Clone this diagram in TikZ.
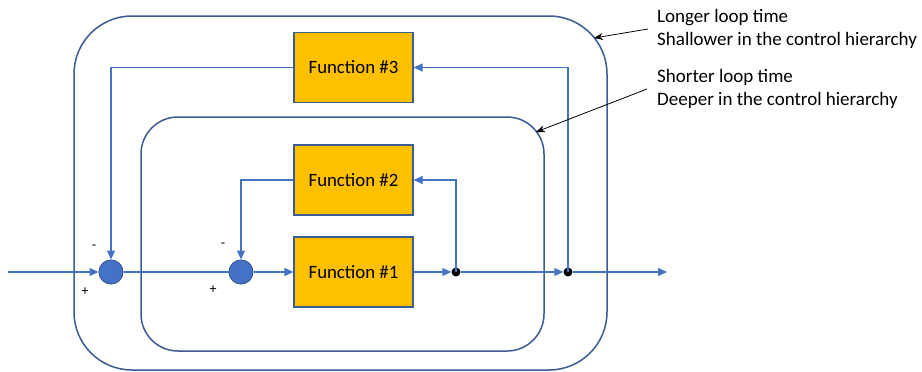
\documentclass[tikz,border=0pt]{standalone}
\usepackage{fontspec}
\setmainfont{Carlito}
\usetikzlibrary{arrows.meta}
\definecolor{conn}{HTML}{4472C4}
\definecolor{edge}{HTML}{3B5B94}
\definecolor{fn}{HTML}{FFC000}
\begin{document}
\begin{tikzpicture}[x=1pt,y=-1pt,
  fnbox/.style={draw=edge, line width=1.2pt, fill=fn, minimum width=119pt, minimum height=70pt, inner sep=0pt, font=\fontsize{18.8}{20}\selectfont},
  sumnode/.style={circle, draw=edge, line width=1pt, fill=conn, minimum size=24pt, inner sep=0pt},
  dotnode/.style={circle, fill=black, minimum size=9pt, inner sep=0pt},
  cn/.style={draw=conn, line width=1.1pt, -{Triangle[length=9pt,width=8pt]}},
  cnplain/.style={draw=conn, line width=1.1pt},
  ann/.style={draw=black, line width=0.8pt, -{Stealth[length=9pt,width=7pt]}},
  anntext/.style={align=left, anchor=west, inner sep=0pt, font=\fontsize{19}{23}\selectfont},
  sign/.style={inner sep=0pt, font=\fontsize{14}{14}\selectfont}]
\useasboundingbox (0,0) rectangle (922,372);
% loops
\node[draw=edge, line width=1.5pt, rounded corners=58pt, minimum width=533pt, minimum height=354pt, inner sep=0pt] (outer) at (340.5,193) {};
\node[draw=edge, line width=1.5pt, rounded corners=37pt, minimum width=403pt, minimum height=234pt, inner sep=0pt] (inner) at (342.5,234) {};
% functions
\node[fnbox] (f3) at (353.5,67.5) {Function \#3};
\node[fnbox] (f2) at (353.5,180) {Function \#2};
\node[fnbox] (f1) at (353.5,272) {Function \#1};
% sums and dots
\node[sumnode] (s1) at (111,272) {};
\node[sumnode] (s2) at (241,272) {};
\node[dotnode] (d1) at (456,272) {};
\node[dotnode] (d2) at (568,272) {};
\coordinate (in) at (8,272);
\coordinate (out) at (667,272);
% signs
\node[sign] (m1) at (94,247) {-};
\node[sign] (m2) at (223,245) {-};
\node[sign] (p1) at (85,292) {+};
\node[sign] (p2) at (213,290) {+};
% forward path
\draw[cn] (in) -- (s1);
\draw[cnplain] (s1) -- (s2);
\draw[cn] (s2) -- (f1);
\draw[cn] (f1) -- (d1);
\draw[cn] (d1) -- (d2);
\draw[cn] (d2) -- (out);
% feedback
\draw[cn] (d1.center) |- (f2);
\draw[cn] (f2) -| (s2);
\draw[cn] (d2.center) |- (f3);
\draw[cn] (f3) -| (s1);
% annotations
\node[anntext] (a1) at (657,29) {Longer loop time\\Shallower in the control hierarchy};
\node[anntext] (a2) at (657,89) {Shorter loop time\\Deeper in the control hierarchy};
\coordinate (t1) at (594,38);
\coordinate (t2) at (536,132);
\draw[ann] ([xshift=-9pt]a1.west) -- (t1);
\draw[ann] ([xshift=-10pt]a2.west) -- (t2);
\end{tikzpicture}
\end{document}
